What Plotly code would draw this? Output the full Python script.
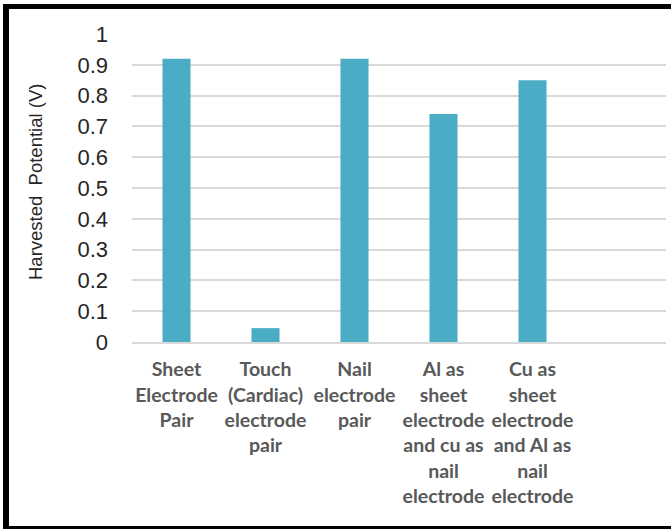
import plotly.graph_objects as go

categories = [
    "Sheet<br>Electrode<br>Pair",
    "Touch<br>(Cardiac)<br>electrode<br>pair",
    "Nail<br>electrode<br>pair",
    "Al as<br>sheet<br>electrode<br>and cu as<br>nail<br>electrode",
    "Cu as<br>sheet<br>electrode<br>and Al as<br>nail<br>electrode",
    " ",
]
values = [0.92, 0.045, 0.92, 0.74, 0.85, None]
yticks = [0, 0.1, 0.2, 0.3, 0.4, 0.5, 0.6, 0.7, 0.8, 0.9, 1]
ytitle = "Harvested  Potential (V)"

W, H = 671, 529
L, R, T, B = 132, 5, 34, 187
pw, ph = W - L - R, H - T - B

def px_x(p):
    return (p - L) / pw

def px_y(p):
    return (H - B - p) / ph

fig = go.Figure(go.Bar(
    x=list(range(len(categories))), y=values,
    marker=dict(color="#4BACC6", line=dict(width=0)),
    width=0.315,
))

fig.update_layout(
    width=W, height=H,
    margin=dict(l=L, r=R, t=T, b=B),
    paper_bgcolor="white", plot_bgcolor="white",
    showlegend=False,
    xaxis=dict(
        tickmode="array", tickvals=list(range(len(categories))), ticktext=categories,
        range=[-0.5, 5.5], showgrid=False, zeroline=False,
        showline=True, linecolor="#d9d9d9", linewidth=2,
        ticks="", tickangle=0,
        tickfont=dict(family="Lato", size=19.5, color="#595959", weight="bold"),
        ticklabelstandoff=9,
    ),
    yaxis=dict(
        range=[0, 1.0], tickvals=yticks, ticktext=[f"{v:g}" for v in yticks],
        showgrid=True, gridcolor="#d9d9d9", gridwidth=2,
        zeroline=False, showline=False, ticks="",
        tickfont=dict(family="Liberation Sans, Arial", size=22, color="#262626"),
        ticklabelstandoff=23,
    ),
    annotations=[dict(
        text=ytitle, textangle=-90, showarrow=False,
        xref="paper", yref="paper", x=px_x(35), y=px_y(182),
        xanchor="center", yanchor="middle",
        font=dict(family="Liberation Sans, Arial", size=18.5, color="#262626"),
    )],
    shapes=[
        dict(type="line", xref="paper", yref="paper",
             x0=px_x(6), x1=px_x(6), y0=px_y(4), y1=px_y(529),
             line=dict(color="black", width=6)),
        dict(type="line", xref="paper", yref="paper",
             x0=px_x(3), x1=px_x(671), y0=px_y(6.5), y1=px_y(6.5),
             line=dict(color="black", width=5)),
        dict(type="line", xref="paper", yref="paper",
             x0=px_x(3), x1=px_x(671), y0=px_y(527.5), y1=px_y(527.5),
             line=dict(color="black", width=3)),
    ],
)

fig.write_html("out.html", config={"displayModeBar": False},
               post_script="document.body.style.margin='0';document.body.style.overflow='hidden';")
